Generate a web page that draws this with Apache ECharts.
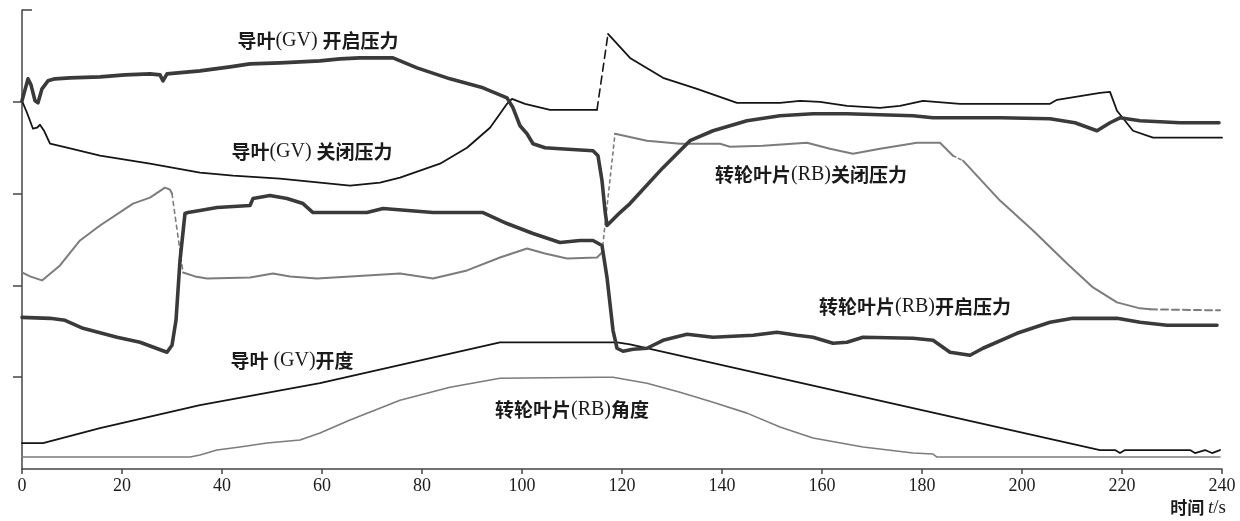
<!DOCTYPE html>
<html>
<head>
<meta charset="utf-8">
<script src="https://cdn.jsdelivr.net/npm/echarts@6.0.0/dist/echarts.min.js"></script>
<style>
html,body{margin:0;padding:0;background:#fff;}
#chart{width:1240px;height:521px;}
</style>
</head>
<body>
<div id="chart"></div>
<script>
// x: time t/s ; y: relative level (axis has no value labels)
const xTicks = [0,20,40,60,80,100,120,140,160,180,200,220,240];

const gvOpenPressure = [[0,369],[1.2,391],[1.8,385],[2.6,369],[3.2,367],[4,381],[5.2,389],[6.6,391],[9.6,392],[15.6,393],[20.6,395],[25.6,396],[27.6,395],[28.2,389],[29,396],[35.6,399],[41.6,403],[45.6,406],[51.6,407],[59.6,409],[63.6,411],[67.6,412],[74.2,412],[79,402],[85.6,391],[92.2,382],[97,372],[98.2,362],[99.6,344],[101,336],[102.2,326],[104.6,322],[107.6,321],[114.2,319],[115.2,314],[116,289],[116.6,259],[117,244],[119.6,257],[121.6,266],[128.2,302],[133.6,329],[138.2,339],[145,349],[151.6,354],[158.2,356],[165,356],[171.6,355],[178.2,354],[182.2,352],[195.6,352],[205.6,351],[210.6,347],[215,339],[217.6,347],[219.6,352],[223.6,349],[231.6,347],[239.4,347]];

const gvClosePressureA = [[0,369],[1,357],[2.2,341],[3,342],[3.6,345],[4.4,339],[5.6,326],[9,322],[15.6,314],[25.6,306],[35.6,297],[42.2,294],[51.6,291],[59.6,287],[65.6,284],[71.6,287],[75.6,292],[83.6,306],[89,322],[93.6,342],[95.6,356],[97,366],[98,371],[100.6,366],[105.6,360],[115,360]];
const gvCloseJump = [[115,360],[117.2,436]];
const gvClosePressureB = [[117.2,436],[121.6,412],[128.2,392],[135,381],[143,367],[151.6,367],[155.6,369],[159.6,368],[165,364],[171.6,362],[175.6,364],[180.2,369],[187.6,366],[205.6,366],[207,370],[215.6,377],[217.6,378],[219,359],[222.2,339],[226.2,332],[240,332]];

const rbClosePressureA = [[0,197],[1.6,193],[4,189],[7.6,204],[11.6,229],[15.6,244],[22.2,266],[25.6,272],[28.6,282],[29.6,280],[30,276]];
const rbCloseJumpA = [[30,276],[32.2,197]];
const rbClosePressureB = [[32.2,197],[34.6,193],[37,191],[45.6,192],[50.2,196],[53.6,193],[59,191],[69,194],[75.6,196],[82.2,191],[89,199],[95.6,212],[101,221],[104.6,216],[109,211],[115,212],[116,217]];
const rbCloseJumpB = [[116,217],[118.6,336]];
const rbClosePressureC = [[118.6,336],[119,336],[125,329],[131.6,326],[139.6,326],[141.6,323],[148.2,324],[157,327],[161.6,321],[166.2,316],[171.6,321],[179,327],[183.6,327],[186.2,314]];
const rbCloseGap = [[186.2,314],[188.2,309]];
const rbClosePressureD = [[188.2,309],[195.6,269],[202.2,239],[209,206],[214.2,182],[219,167],[223.6,161],[225.6,160]];
const rbCloseTail = [[225.6,160],[239.6,159]];

const rbOpenPressure = [[0,152],[5.6,151],[8.6,149],[12.2,141],[19,132],[23.6,127],[29,117],[30,124],[30.8,149],[31.6,209],[32.6,256],[33.2,257],[35.6,259],[39,262],[45.6,264],[46.2,271],[49.6,274],[53,271],[56.2,266],[58.2,257],[63.6,257],[69,257],[72.2,261],[82.2,257],[92.2,257],[97,246],[102.2,236],[107.6,227],[111.6,229],[114.2,229],[116,224],[117,192],[118.2,139],[119,121],[120.2,118],[122.2,120],[125,121],[128.2,129],[133,135],[138.2,132],[146.2,134],[151,137],[155,134],[158.2,132],[162.2,126],[165,127],[168.2,132],[178.2,131],[182.2,129],[185.6,117],[189.6,114],[192.2,121],[199,136],[205.6,147],[210.2,151],[219,151],[223.6,147],[229,144],[239,144]];

const gvOpening = [[0,26],[4.2,26],[15.6,41],[35.6,64],[59.6,86],[95.6,127],[119,127],[121.6,125],[178.2,61],[215.6,19],[218.6,19],[219.6,16],[220.6,19],[233.6,19],[234.6,16],[236.6,19],[238,16],[239.6,19]];

const rbAngle = [[0,12],[33.6,12],[35.6,14],[39,19],[43.6,22],[49,26],[55.6,29],[59.6,36],[65.6,49],[75.6,69],[85.6,82],[95.6,91],[115.6,92],[118.2,92],[125,86],[131.6,77],[138.2,67],[145,56],[151.6,42],[158.2,31],[168.2,22],[178.2,16],[182.2,15],[183,12],[239.6,12]];

// {c|...} = Chinese part, {l|...} = Latin part
const curveLabels = [
  {text:'{c|导叶}{l|(GV) }{c|开启压力}', x:318, y:41},
  {text:'{c|导叶}{l|(GV) }{c|关闭压力}', x:312, y:152},
  {text:'{c|转轮叶片}{l|(RB)}{c|关闭压力}', x:811, y:175},
  {text:'{c|转轮叶片}{l|(RB)}{c|开启压力}', x:915, y:307},
  {text:'{c|导叶}{l| (GV)}{c|开度}', x:292, y:361},
  {text:'{c|转轮叶片}{l|(RB)}{c|角度}', x:572, y:410}
];

const THICK = '#3a3a3a', BLACK = '#151515', GRAY = '#7c7c7c';
function line(data, color, width, type, z) {
  return {type:'line', data:data, showSymbol:false, symbol:'none', silent:true,
    lineStyle:{color:color, width:width, type:type||'solid', cap:'round', join:'round'}, z:z||2, animation:false};
}

const serif = '"Liberation Serif",serif';
const cjk = '"Noto Sans CJK SC",sans-serif';
const richStyles = {
  c:{fontFamily:cjk, fontSize:19, fontWeight:'bold', fill:'#1a1a1a'},
  l:{fontFamily:serif, fontSize:20, fontWeight:'normal', fill:'#1a1a1a'},
  i:{fontFamily:serif, fontSize:19, fontStyle:'italic', fill:'#1a1a1a'}
};

const chart = echarts.init(document.getElementById('chart'), null, {renderer:'canvas'});
chart.setOption({
  backgroundColor:'#fff',
  animation:false,
  grid:{left:22, right:18, top:10, bottom:52, containLabel:false},
  xAxis:{type:'value', min:0, max:240, interval:20,
    axisLine:{show:true, lineStyle:{color:'#444', width:1.5}},
    axisTick:{show:true, inside:false, length:5, lineStyle:{color:'#444', width:1.5}},
    axisLabel:{show:true, margin:8, color:'#1a1a1a', fontSize:18, fontFamily:serif,
      formatter:function(v){return xTicks.indexOf(v)>=0 ? String(v) : '';}},
    splitLine:{show:false}},
  yAxis:[
    {type:'value', min:0, max:460, interval:92, position:'left',
      axisLine:{show:true, lineStyle:{color:'#444', width:1.5}},
      axisTick:{show:true, inside:false, length:9, customValues:[92,184,276,368], lineStyle:{color:'#444', width:1.5}},
      axisLabel:{show:false}, splitLine:{show:false}},
    {type:'value', min:0, max:460, interval:92, position:'left',
      axisLine:{show:false},
      axisTick:{show:true, inside:true, length:10, customValues:[460], lineStyle:{color:'#444', width:1.5}},
      axisLabel:{show:false}, splitLine:{show:false}}
  ],
  series:[
    line(rbAngle, GRAY, 1.6),
    line(gvOpening, BLACK, 1.8),
    line(rbClosePressureA, GRAY, 2),
    line(rbCloseJumpA, GRAY, 1.6, [4,4]),
    line(rbClosePressureB, GRAY, 2),
    line(rbCloseJumpB, GRAY, 1.6, [3,4]),
    line(rbClosePressureC, GRAY, 2),
    line(rbCloseGap, GRAY, 1.6, [3,3]),
    line(rbClosePressureD, GRAY, 2),
    line(rbCloseTail, GRAY, 2, [7,4]),
    line(gvClosePressureA, BLACK, 1.8),
    line(gvCloseJump, BLACK, 1.6, [8,5]),
    line(gvClosePressureB, BLACK, 1.8),
    line(rbOpenPressure, THICK, 3.6, null, 3),
    line(gvOpenPressure, THICK, 3.6, null, 3)
  ],
  graphic: curveLabels.map(function(l){
    return {type:'text', silent:true, z:10, style:{text:l.text, x:l.x, y:l.y, align:'center', verticalAlign:'middle',
      fill:'#1a1a1a', fontSize:19, fontFamily:cjk, rich:richStyles}};
  }).concat([
    {type:'text', silent:true, z:10, style:{text:'{c|时间 }{i|t}{l|/s}', x:1226, y:508, align:'right', verticalAlign:'middle',
      fill:'#1a1a1a', fontSize:18, fontFamily:cjk,
      rich:{c:{fontFamily:cjk, fontSize:17, fontWeight:'bold', fill:'#1a1a1a'},
            i:{fontFamily:serif, fontSize:19, fontStyle:'italic', fill:'#1a1a1a'},
            l:{fontFamily:serif, fontSize:19, fill:'#1a1a1a'}}}}
  ])
});
</script>
</body>
</html>
